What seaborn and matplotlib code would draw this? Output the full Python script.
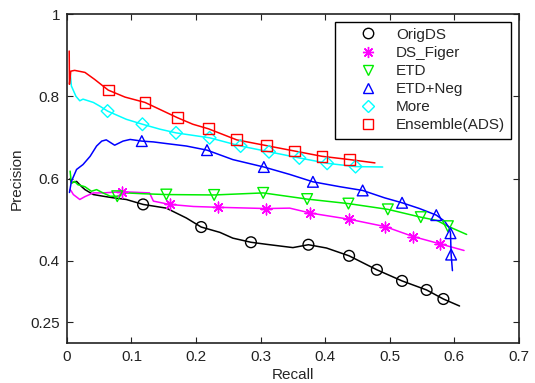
import numpy as np
import pandas as pd
import matplotlib
matplotlib.use("Agg")
import matplotlib.pyplot as plt
from matplotlib.lines import Line2D
import seaborn as sns

# OrigDS (black)
orig_x = [0.005, 0.007, 0.015, 0.023, 0.028, 0.041, 0.056, 0.072, 0.092, 0.118, 0.154, 0.185,
          0.208, 0.237, 0.257, 0.285, 0.309, 0.350, 0.374, 0.402, 0.437, 0.480, 0.519, 0.557,
          0.583, 0.608]
orig_y = [0.600, 0.590, 0.593, 0.580, 0.573, 0.561, 0.557, 0.553, 0.549, 0.537, 0.528, 0.504,
          0.482, 0.469, 0.455, 0.445, 0.440, 0.432, 0.439, 0.431, 0.412, 0.378, 0.351, 0.329,
          0.307, 0.290]
orig_mx = [0.118, 0.208, 0.285, 0.374, 0.437, 0.480, 0.519, 0.557, 0.583]
orig_my = [0.537, 0.482, 0.445, 0.439, 0.412, 0.378, 0.351, 0.329, 0.307]

# DS_Figer (magenta)
figer_x = [0.005, 0.007, 0.010, 0.020, 0.028, 0.041, 0.056, 0.085, 0.128, 0.134, 0.159, 0.196,
           0.234, 0.309, 0.345, 0.377, 0.437, 0.493, 0.536, 0.578, 0.615]
figer_y = [0.573, 0.569, 0.561, 0.549, 0.556, 0.565, 0.565, 0.568, 0.565, 0.545, 0.537, 0.532,
           0.530, 0.527, 0.528, 0.516, 0.501, 0.483, 0.459, 0.441, 0.425]
figer_mx = [0.085, 0.159, 0.234, 0.309, 0.377, 0.437, 0.493, 0.536, 0.578]
figer_my = [0.568, 0.537, 0.530, 0.527, 0.516, 0.501, 0.483, 0.459, 0.441]

# ETD (green)
etd_x = [0.005, 0.007, 0.012, 0.017, 0.028, 0.038, 0.046, 0.056, 0.067, 0.078, 0.092, 0.118,
         0.154, 0.228, 0.304, 0.372, 0.436, 0.497, 0.548, 0.573, 0.590, 0.619]
etd_y = [0.618, 0.588, 0.593, 0.585, 0.580, 0.569, 0.573, 0.565, 0.557, 0.557, 0.565, 0.563,
         0.561, 0.560, 0.565, 0.550, 0.539, 0.525, 0.506, 0.498, 0.484, 0.464]
etd_mx = [0.078, 0.154, 0.228, 0.304, 0.372, 0.436, 0.497, 0.548, 0.590]
etd_my = [0.557, 0.561, 0.560, 0.565, 0.550, 0.539, 0.525, 0.506, 0.484]

# ETD+Neg (blue)
neg_x = [0.004, 0.007, 0.015, 0.025, 0.036, 0.046, 0.054, 0.061, 0.074, 0.087, 0.098, 0.116,
         0.134, 0.154, 0.185, 0.217, 0.257, 0.305, 0.345, 0.381, 0.423, 0.458, 0.492, 0.519,
         0.546, 0.572, 0.585, 0.592, 0.594, 0.595, 0.597]
neg_y = [0.566, 0.593, 0.622, 0.634, 0.654, 0.679, 0.691, 0.694, 0.681, 0.691, 0.695, 0.691,
         0.689, 0.685, 0.679, 0.669, 0.646, 0.628, 0.610, 0.592, 0.580, 0.571, 0.553, 0.541,
         0.527, 0.511, 0.496, 0.480, 0.467, 0.415, 0.376]
neg_mx = [0.116, 0.217, 0.305, 0.381, 0.458, 0.519, 0.572, 0.594, 0.595]
neg_my = [0.691, 0.669, 0.628, 0.592, 0.571, 0.541, 0.511, 0.467, 0.415]

# More (cyan)
more_x = [0.005, 0.007, 0.014, 0.020, 0.025, 0.041, 0.051, 0.063, 0.092, 0.117, 0.144, 0.169,
          0.195, 0.221, 0.269, 0.313, 0.360, 0.403, 0.447, 0.489]
more_y = [0.860, 0.825, 0.800, 0.789, 0.793, 0.785, 0.776, 0.764, 0.744, 0.732, 0.720, 0.711,
          0.705, 0.699, 0.679, 0.665, 0.650, 0.637, 0.629, 0.628]
more_mx = [0.063, 0.117, 0.169, 0.221, 0.269, 0.313, 0.360, 0.403, 0.447]
more_my = [0.764, 0.732, 0.711, 0.699, 0.679, 0.665, 0.650, 0.637, 0.629]

# Ensemble(ADS) (red)
ads_x = [0.0036, 0.004, 0.006, 0.012, 0.028, 0.043, 0.064, 0.090, 0.121, 0.144, 0.171, 0.195,
         0.219, 0.263, 0.309, 0.352, 0.395, 0.438, 0.477]
ads_y = [0.910, 0.829, 0.861, 0.863, 0.858, 0.841, 0.815, 0.798, 0.785, 0.768, 0.748, 0.732,
         0.721, 0.694, 0.680, 0.667, 0.654, 0.646, 0.638]
ads_mx = [0.064, 0.121, 0.171, 0.219, 0.263, 0.309, 0.352, 0.395, 0.438]
ads_my = [0.815, 0.785, 0.748, 0.721, 0.694, 0.680, 0.667, 0.654, 0.646]

series = [
    ("OrigDS", orig_x, orig_y, orig_mx, orig_my, "black", "o"),
    ("DS_Figer", figer_x, figer_y, figer_mx, figer_my, "magenta", (8, 2, 0)),
    ("ETD", etd_x, etd_y, etd_mx, etd_my, "#00ee00", "v"),
    ("ETD+Neg", neg_x, neg_y, neg_mx, neg_my, "blue", "^"),
    ("More", more_x, more_y, more_mx, more_my, "cyan", "D"),
    ("Ensemble(ADS)", ads_x, ads_y, ads_mx, ads_my, "red", "s"),
]

sns.set_style("ticks")
plt.rcParams['font.family'] = ['Liberation Sans', 'DejaVu Sans']
plt.rcParams['xtick.direction'] = 'in'
plt.rcParams['ytick.direction'] = 'in'

fig = plt.figure(figsize=(5.35, 3.83), dpi=100)
ax = fig.add_axes([0.125, 0.1044, 0.845, 0.859])

handles = []
for name, x, y, mx, my, color, marker in series:
    sns.lineplot(x=x, y=y, ax=ax, color=color, linewidth=1.1, sort=False, estimator=None)
    msize = 60 if marker != "D" else 42
    if marker == (8, 2, 0):
        sns.scatterplot(x=mx, y=my, ax=ax, marker=marker, color=color, s=msize,
                        linewidth=1.0, zorder=3)
        handles.append(Line2D([], [], linestyle='none', marker=marker, color=color,
                              markersize=8, markeredgewidth=1.0, label=name))
    else:
        sns.scatterplot(x=mx, y=my, ax=ax, marker=marker, facecolor='none', edgecolor=color,
                        s=msize, linewidth=1.0, zorder=3)
        handles.append(Line2D([], [], linestyle='none', marker=marker, color=color,
                              markerfacecolor='none', markersize=7.5 if marker != "D" else 6.5,
                              markeredgewidth=1.0, label=name))

ax.set_xlim(0, 0.7)
ax.set_ylim(0.2, 1.0)
ax.set_xticks([0, 0.1, 0.2, 0.3, 0.4, 0.5, 0.6, 0.7])
ax.set_xticklabels(['0', '0.1', '0.2', '0.3', '0.4', '0.5', '0.6', '0.7'])
ax.set_yticks([0.25, 0.4, 0.6, 0.8, 1.0])
ax.set_yticklabels(['0.25', '0.4', '0.6', '0.8', '1'])
ax.tick_params(axis='both', which='both', top=True, right=True, length=4, width=0.8,
               labelsize=11, pad=5, colors='#222222', labelcolor='#222222')
for sp in ax.spines.values():
    sp.set_linewidth(1.2)
    sp.set_color('#222222')
ax.set_xlabel('Recall', fontsize=11, labelpad=3)
ax.set_ylabel('Precision', fontsize=11, labelpad=5)

leg = ax.legend(handles=handles, loc='upper right', fontsize=11, frameon=True, fancybox=False,
                framealpha=1, edgecolor='black', handlelength=3.5, handletextpad=0.1,
                labelspacing=0.27, borderaxespad=0.5, borderpad=0.4)
leg.get_frame().set_linewidth(1.0)

fig.savefig('out.png', dpi=100)
